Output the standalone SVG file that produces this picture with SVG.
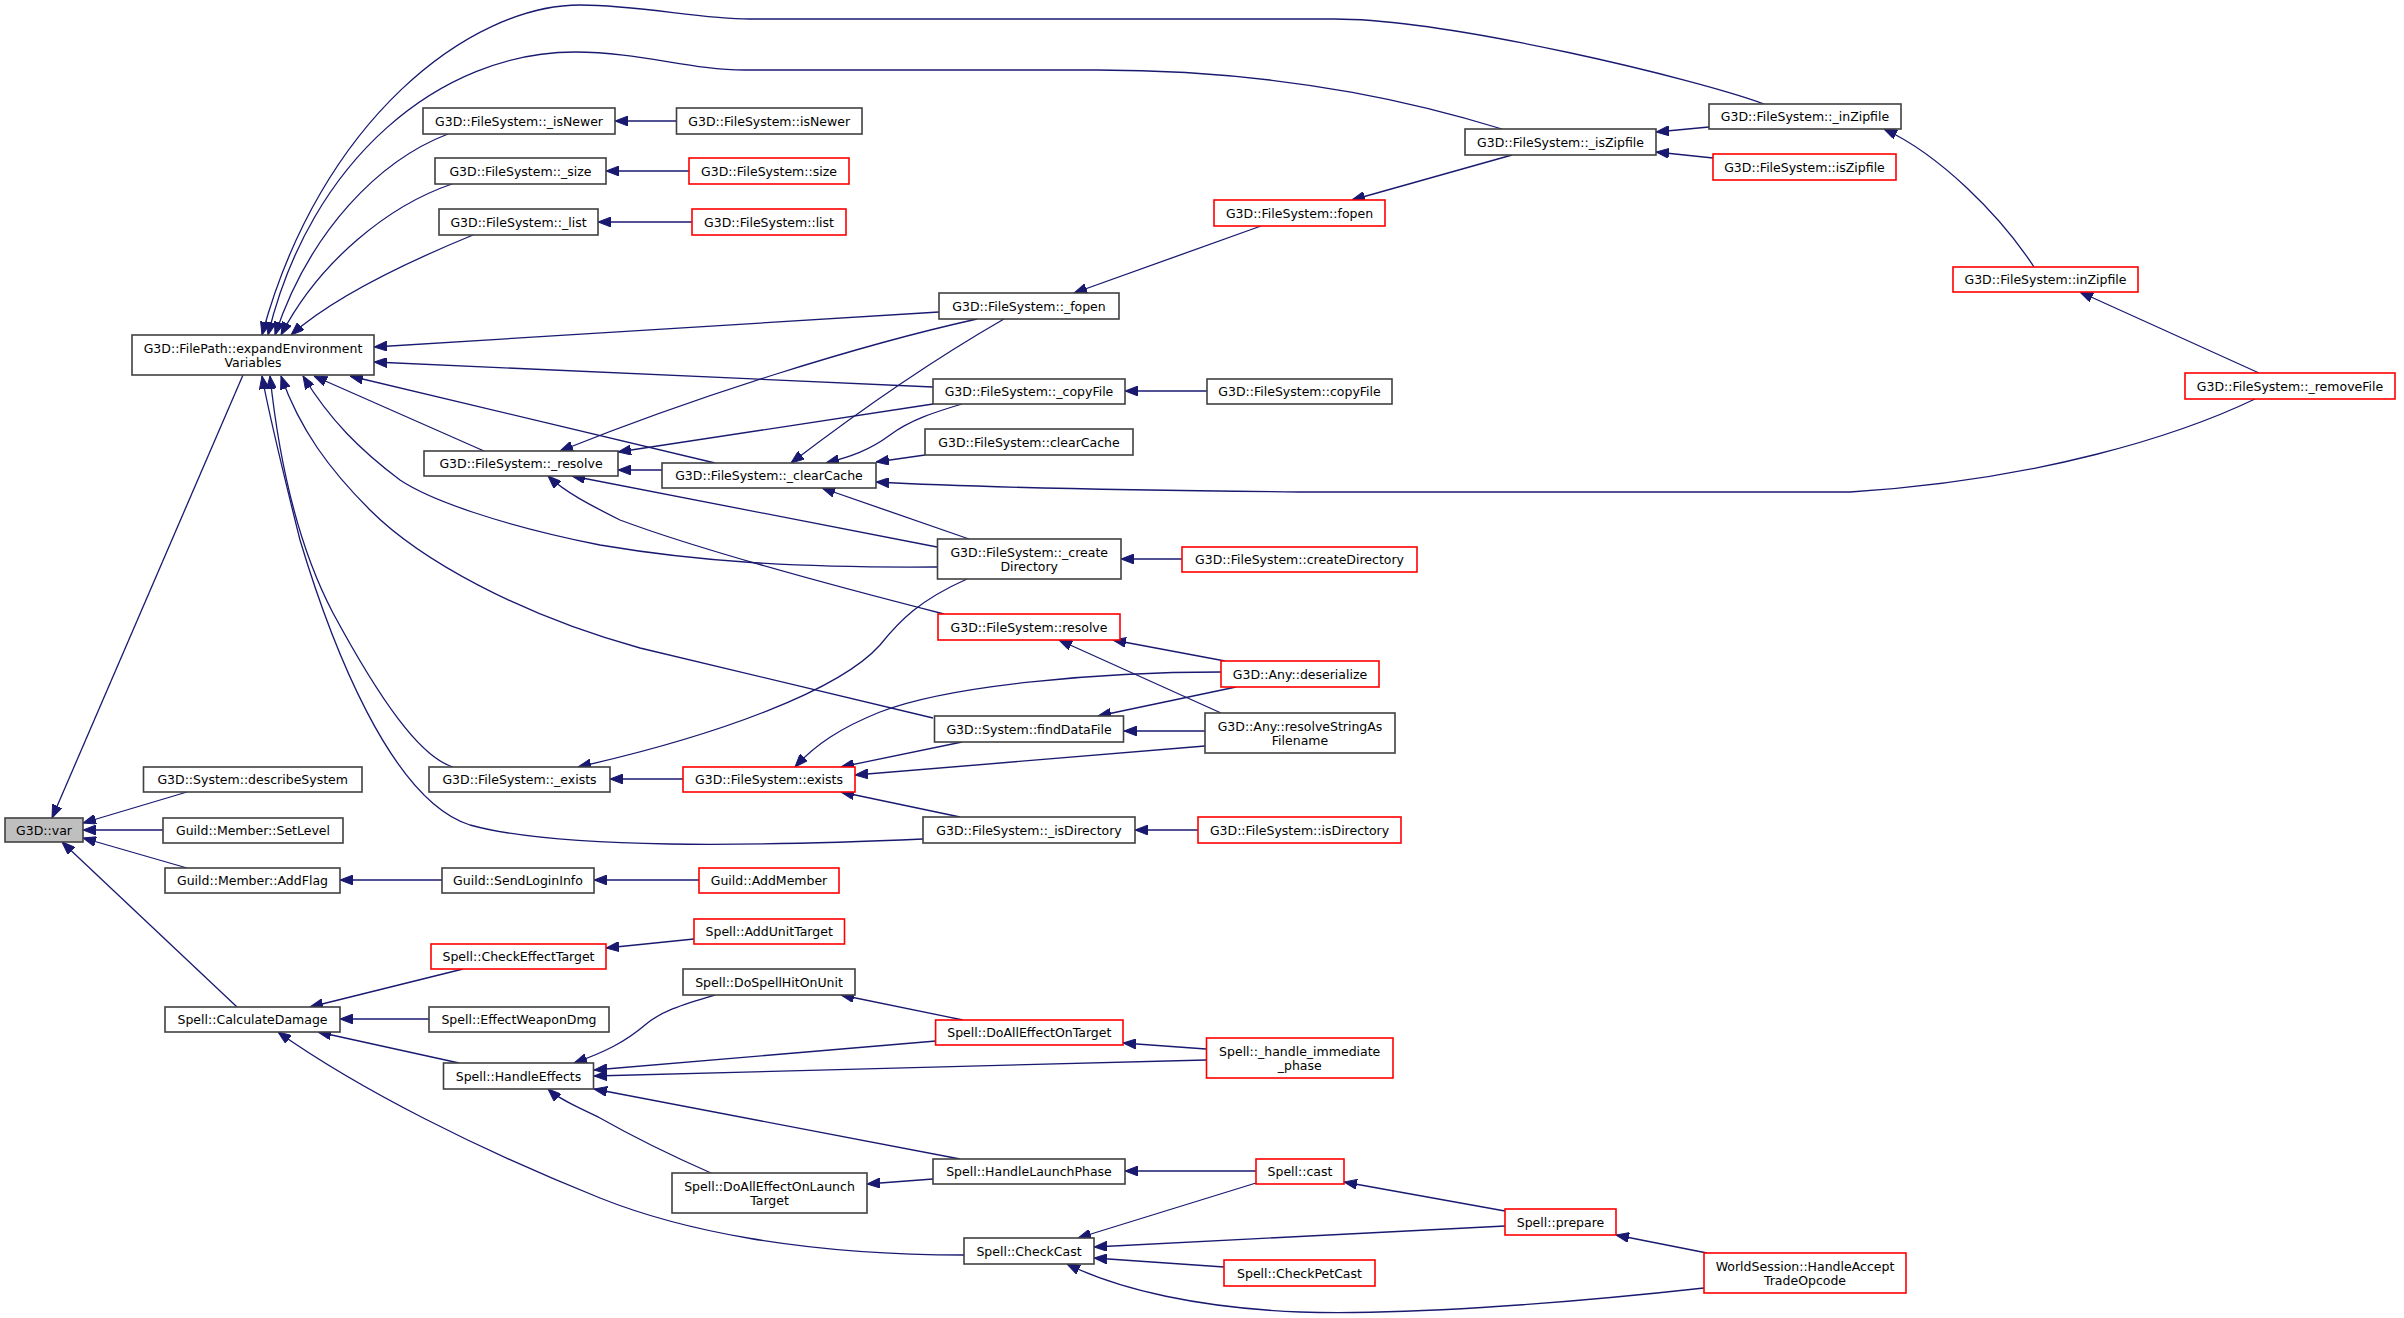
<svg xmlns="http://www.w3.org/2000/svg" width="2404" height="1318" viewBox="0 0 2404 1318">
<style>
.n rect{fill:#ffffff;stroke:#404040;stroke-width:1.6}
.r rect{fill:#ffffff;stroke:#ff0000;stroke-width:1.6}
.g rect{fill:#bfbfbf;stroke:#404040;stroke-width:1.6}
text{font-family:"DejaVu Sans",sans-serif;font-size:12.5px;fill:#000000;text-anchor:middle}
#edges path{fill:none;stroke:#191970;stroke-width:1.3;marker-end:url(#ah)}
</style>
<defs>
<marker id="ah" viewBox="0 0 13 10" markerWidth="13" markerHeight="10" refX="13" refY="5" orient="auto" markerUnits="userSpaceOnUse">
<path d="M0,0 L13,5 L0,10 z" fill="#191970" stroke="#191970"/>
</marker>
</defs>
<rect x="0" y="0" width="2404" height="1318" fill="#ffffff"/>
<g id="edges">
<path d="M243,375 L52,818"/>
<path d="M187,792 L83,823"/>
<path d="M163,830 L83,830"/>
<path d="M187,868 L83,838"/>
<path d="M237,1007 L62,842"/>
<path d="M1764,104 C1700,80 1450,19 1334,19 L749,19 C700,19 640,5 580,5 C470,5 320,120 262,335"/>
<path d="M1502,129 C1440,110 1300,70 1097,70 L745,70 C690,70 640,52 575,52 C440,52 310,160 268,335"/>
<path d="M448,134 C380,160 310,230 275,335"/>
<path d="M452,184 C390,205 320,260 281,335"/>
<path d="M473,235 C400,265 330,300 291,335"/>
<path d="M939,312 L374,347"/>
<path d="M933,387 L374,362"/>
<path d="M923,839 C760,846 560,850 470,825 C390,800 330,640 300,540 C285,480 270,420 262,376"/>
<path d="M453,767 C420,757 380,700 333,613 C300,550 280,470 270,376"/>
<path d="M933,718 L640,648 C520,615 420,560 370,510 C330,470 300,430 281,376"/>
<path d="M937,567 C800,568 700,562 600,545 C500,525 430,500 400,480 C360,450 330,420 303,376"/>
<path d="M484,451 L314,376"/>
<path d="M715,463 L350,376"/>
<path d="M676,121 L615,121"/>
<path d="M689,171 L606,171"/>
<path d="M692,222 L598,222"/>
<path d="M977,319 C860,345 700,395 560,451"/>
<path d="M933,404 L618,452"/>
<path d="M662,470 L618,470"/>
<path d="M937,547 L572,476"/>
<path d="M944,614 C850,590 700,550 620,520 C590,505 565,492 548,476"/>
<path d="M1004,319 C950,350 880,395 791,463"/>
<path d="M962,404 C935,412 910,420 890,435 C870,450 850,457 826,463"/>
<path d="M925,455 L876,462"/>
<path d="M969,539 L822,488"/>
<path d="M2255,399 C2180,435 2040,480 1850,492 L1300,492 C1100,490 950,486 876,482"/>
<path d="M2259,373 L2080,292"/>
<path d="M2034,267 C2000,215 1940,155 1884,129"/>
<path d="M1709,127 L1656,132"/>
<path d="M1713,158 L1656,152"/>
<path d="M1512,155 L1352,200"/>
<path d="M1261,226 L1074,293"/>
<path d="M1207,391 L1125,391"/>
<path d="M1182,559 L1121,559"/>
<path d="M1225,661 L1113,640"/>
<path d="M1221,713 L1059,640"/>
<path d="M1236,687 L1098,716"/>
<path d="M1205,731 L1124,731"/>
<path d="M1221,672 C1100,672 950,685 880,712 C840,728 815,745 795,767"/>
<path d="M962,742 L841,767"/>
<path d="M1205,746 L855,775"/>
<path d="M960,817 L841,792"/>
<path d="M1198,830 L1135,830"/>
<path d="M683,779 L610,779"/>
<path d="M967,579 C920,600 900,620 880,645 C840,690 720,735 578,767"/>
<path d="M442,880 L340,880"/>
<path d="M699,880 L594,880"/>
<path d="M463,969 L310,1007"/>
<path d="M429,1019 L340,1019"/>
<path d="M459,1063 L318,1032"/>
<path d="M964,1255 C800,1255 680,1230 600,1198 C480,1150 360,1090 278,1032"/>
<path d="M694,939 L606,948"/>
<path d="M715,995 C680,1005 660,1012 645,1025 C625,1042 605,1052 574,1063"/>
<path d="M936,1041 L594,1070"/>
<path d="M1206,1060 L594,1076"/>
<path d="M960,1159 L594,1089"/>
<path d="M711,1173 C670,1155 630,1135 600,1118 C580,1108 560,1100 548,1089"/>
<path d="M963,1020 L841,995"/>
<path d="M1206,1049 L1123,1043"/>
<path d="M933,1179 L867,1184"/>
<path d="M1256,1171 L1125,1171"/>
<path d="M1505,1211 L1344,1182"/>
<path d="M1707,1253 L1616,1235"/>
<path d="M1256,1183 L1078,1238"/>
<path d="M1505,1226 L1094,1247"/>
<path d="M1224,1267 L1094,1258"/>
<path d="M1704,1288 C1550,1305 1400,1315 1300,1312 C1200,1308 1120,1290 1067,1264"/>
</g>
<g id="var" class="g"><rect x="5" y="818" width="78" height="24"/><text x="44" y="834.5">G3D::var</text></g>
<g id="expandEnv" class="n"><rect x="132" y="335" width="242" height="40"/><text x="253" y="352.5">G3D::FilePath::expandEnvironment</text><text x="253" y="366.5">Variables</text></g>
<g id="describeSystem" class="n"><rect x="143.5" y="767" width="218.5" height="25"/><text x="252.7" y="784">G3D::System::describeSystem</text></g>
<g id="SetLevel" class="n"><rect x="163" y="818" width="180" height="25"/><text x="253" y="835">Guild::Member::SetLevel</text></g>
<g id="AddFlag" class="n"><rect x="165" y="868" width="175" height="25"/><text x="252.5" y="885">Guild::Member::AddFlag</text></g>
<g id="CalculateDamage" class="n"><rect x="165" y="1007" width="175" height="25"/><text x="252.5" y="1024">Spell::CalculateDamage</text></g>
<g id="_isNewer" class="n"><rect x="423" y="108" width="192" height="26"/><text x="519" y="125.5">G3D::FileSystem::_isNewer</text></g>
<g id="_size" class="n"><rect x="435" y="158" width="171" height="26"/><text x="520.5" y="175.5">G3D::FileSystem::_size</text></g>
<g id="_list" class="n"><rect x="439" y="209" width="159" height="26"/><text x="518.5" y="226.5">G3D::FileSystem::_list</text></g>
<g id="_resolve" class="n"><rect x="424" y="451" width="194" height="25"/><text x="521" y="468">G3D::FileSystem::_resolve</text></g>
<g id="_exists" class="n"><rect x="429" y="767" width="181" height="25"/><text x="519.5" y="784">G3D::FileSystem::_exists</text></g>
<g id="SendLoginInfo" class="n"><rect x="442" y="868" width="152" height="25"/><text x="518" y="885">Guild::SendLoginInfo</text></g>
<g id="CheckEffectTarget" class="r"><rect x="431" y="944" width="175" height="25"/><text x="518.5" y="961">Spell::CheckEffectTarget</text></g>
<g id="EffectWeaponDmg" class="n"><rect x="429" y="1007" width="180" height="25"/><text x="519" y="1024">Spell::EffectWeaponDmg</text></g>
<g id="HandleEffects" class="n"><rect x="443.5" y="1063" width="150" height="26"/><text x="518.5" y="1080.5">Spell::HandleEffects</text></g>
<g id="isNewer" class="n"><rect x="676.5" y="108" width="185.5" height="26"/><text x="769.2" y="125.5">G3D::FileSystem::isNewer</text></g>
<g id="size" class="r"><rect x="689" y="158" width="160" height="26"/><text x="769" y="175.5">G3D::FileSystem::size</text></g>
<g id="list" class="r"><rect x="692" y="209" width="154" height="26"/><text x="769" y="226.5">G3D::FileSystem::list</text></g>
<g id="_clearCache" class="n"><rect x="662" y="463" width="214" height="25"/><text x="769" y="480">G3D::FileSystem::_clearCache</text></g>
<g id="exists" class="r"><rect x="683" y="767" width="172" height="25"/><text x="769" y="784">G3D::FileSystem::exists</text></g>
<g id="AddMember" class="r"><rect x="699" y="868" width="140" height="25"/><text x="769" y="885">Guild::AddMember</text></g>
<g id="AddUnitTarget" class="r"><rect x="694" y="919" width="150.5" height="25"/><text x="769.2" y="936">Spell::AddUnitTarget</text></g>
<g id="DoSpellHitOnUnit" class="n"><rect x="683" y="969" width="172" height="26"/><text x="769" y="986.5">Spell::DoSpellHitOnUnit</text></g>
<g id="DoAllEffectOnLaunchTarget" class="n"><rect x="672" y="1173" width="195" height="40"/><text x="769.5" y="1190.5">Spell::DoAllEffectOnLaunch</text><text x="769.5" y="1204.5">Target</text></g>
<g id="_fopen" class="n"><rect x="939" y="293" width="180" height="26"/><text x="1029" y="310.5">G3D::FileSystem::_fopen</text></g>
<g id="_copyFile" class="n"><rect x="933" y="379" width="192" height="25"/><text x="1029" y="396">G3D::FileSystem::_copyFile</text></g>
<g id="clearCache" class="n"><rect x="925" y="429" width="208" height="26"/><text x="1029" y="446.5">G3D::FileSystem::clearCache</text></g>
<g id="_createDirectory" class="n"><rect x="937.5" y="539" width="183.5" height="40"/><text x="1029.2" y="556.5">G3D::FileSystem::_create</text><text x="1029.2" y="570.5">Directory</text></g>
<g id="resolve" class="r"><rect x="938" y="614" width="182" height="26"/><text x="1029" y="631.5">G3D::FileSystem::resolve</text></g>
<g id="findDataFile" class="n"><rect x="934.5" y="716" width="189" height="26"/><text x="1029" y="733.5">G3D::System::findDataFile</text></g>
<g id="_isDirectory" class="n"><rect x="923" y="817" width="212" height="26"/><text x="1029" y="834.5">G3D::FileSystem::_isDirectory</text></g>
<g id="DoAllEffectOnTarget" class="r"><rect x="935.6" y="1020" width="187.4" height="25"/><text x="1029.3" y="1037">Spell::DoAllEffectOnTarget</text></g>
<g id="HandleLaunchPhase" class="n"><rect x="933" y="1159" width="192" height="25"/><text x="1029" y="1176">Spell::HandleLaunchPhase</text></g>
<g id="CheckCast" class="n"><rect x="964" y="1238" width="130" height="26"/><text x="1029" y="1255.5">Spell::CheckCast</text></g>
<g id="fopen" class="r"><rect x="1214" y="200" width="171" height="26"/><text x="1299.5" y="217.5">G3D::FileSystem::fopen</text></g>
<g id="copyFile" class="n"><rect x="1207" y="379" width="185" height="25"/><text x="1299.5" y="396">G3D::FileSystem::copyFile</text></g>
<g id="createDirectory" class="r"><rect x="1182" y="547" width="235" height="25"/><text x="1299.5" y="564">G3D::FileSystem::createDirectory</text></g>
<g id="deserialize" class="r"><rect x="1221" y="661" width="158" height="26"/><text x="1300" y="678.5">G3D::Any::deserialize</text></g>
<g id="resolveStringAsFilename" class="n"><rect x="1205" y="713" width="190" height="40"/><text x="1300" y="730.5">G3D::Any::resolveStringAs</text><text x="1300" y="744.5">Filename</text></g>
<g id="isDirectory" class="r"><rect x="1198" y="817" width="203" height="26"/><text x="1299.5" y="834.5">G3D::FileSystem::isDirectory</text></g>
<g id="handle_immediate_phase" class="r"><rect x="1206.5" y="1038" width="186.5" height="40"/><text x="1299.7" y="1055.5">Spell::_handle_immediate</text><text x="1299.7" y="1069.5">_phase</text></g>
<g id="cast" class="r"><rect x="1256" y="1159" width="88" height="25"/><text x="1300" y="1176">Spell::cast</text></g>
<g id="CheckPetCast" class="r"><rect x="1224" y="1260" width="151" height="26"/><text x="1299.5" y="1277.5">Spell::CheckPetCast</text></g>
<g id="_isZipfile" class="n"><rect x="1465" y="129" width="191" height="26"/><text x="1560.5" y="146.5">G3D::FileSystem::_isZipfile</text></g>
<g id="prepare" class="r"><rect x="1505" y="1209" width="111" height="26"/><text x="1560.5" y="1226.5">Spell::prepare</text></g>
<g id="_inZipfile" class="n"><rect x="1709" y="104" width="192" height="25"/><text x="1805" y="121">G3D::FileSystem::_inZipfile</text></g>
<g id="isZipfile" class="r"><rect x="1713" y="154" width="183" height="26"/><text x="1804.5" y="171.5">G3D::FileSystem::isZipfile</text></g>
<g id="HandleAcceptTradeOpcode" class="r"><rect x="1704" y="1253" width="202" height="40"/><text x="1805" y="1270.5">WorldSession::HandleAccept</text><text x="1805" y="1284.5">TradeOpcode</text></g>
<g id="inZipfile" class="r"><rect x="1953" y="267" width="185" height="25"/><text x="2045.5" y="284">G3D::FileSystem::inZipfile</text></g>
<g id="_removeFile" class="r"><rect x="2185" y="373" width="210" height="26"/><text x="2290" y="390.5">G3D::FileSystem::_removeFile</text></g>
</svg>
